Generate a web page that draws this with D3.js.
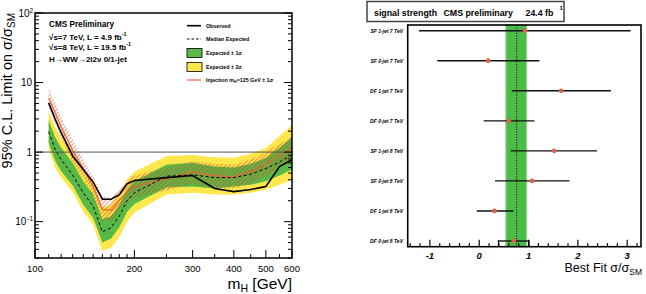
<!DOCTYPE html>
<html>
<head>
<meta charset="utf-8">
<script src="https://cdn.jsdelivr.net/npm/d3@7"></script>
<style>
  html, body { margin: 0; padding: 0; background: #fff; }
  svg { display: block; font-family: "Liberation Sans", Arial, sans-serif; }
</style>
</head>
<body>
<svg id="chart" width="646" height="294"></svg>
<script>
/* global d3 */

// ---- left panel: limit vs mass ----
const masses   = [110, 115, 120, 130, 140, 150, 160, 170, 180, 190, 200, 250, 300, 350, 400, 450, 500, 550, 600];
const observed = [5.1, 3.0, 1.9, 0.88, 0.56, 0.37, 0.21, 0.21, 0.245, 0.35, 0.39, 0.43, 0.46, 0.30, 0.27, 0.29, 0.32, 0.62, 0.78];
const expected = [1.97, 1.1, 0.78, 0.47, 0.26, 0.167, 0.071, 0.082, 0.12, 0.2, 0.26, 0.45, 0.47, 0.43, 0.43, 0.48, 0.58, 0.72, 0.91];
const exp1Hi   = [2.9, 1.65, 1.15, 0.7, 0.38, 0.245, 0.108, 0.12, 0.175, 0.29, 0.38, 0.66, 0.70, 0.62, 0.6, 0.68, 0.82, 1.15, 1.65];
const exp1Lo   = [1.35, 0.75, 0.53, 0.33, 0.175, 0.113, 0.05, 0.057, 0.083, 0.138, 0.18, 0.31, 0.32, 0.3, 0.32, 0.34, 0.38, 0.46, 0.56];
const exp2Hi   = [3.9, 2.3, 1.6, 1.0, 0.55, 0.35, 0.16, 0.175, 0.25, 0.4, 0.52, 0.88, 0.91, 0.84, 0.83, 0.95, 1.14, 1.7, 2.45];
const exp2Lo   = [1.1, 0.6, 0.43, 0.27, 0.14, 0.09, 0.038, 0.042, 0.06, 0.1, 0.135, 0.245, 0.26, 0.245, 0.245, 0.26, 0.29, 0.34, 0.40];
const injMid   = [6.0, 3.7, 2.3, 1.05, 0.58, 0.32, 0.15, 0.145, 0.2, 0.27, 0.32, 0.41, 0.52, 0.46, 0.44, 0.52, 0.68, 0.88, 1.15];
const injHi    = [8.0, 5.2, 3.2, 1.5, 0.78, 0.44, 0.23, 0.22, 0.3, 0.4, 0.46, 0.6, 0.74, 0.68, 0.66, 0.78, 1.0, 1.3, 1.7];
const injLo    = [4.4, 2.6, 1.6, 0.72, 0.42, 0.24, 0.105, 0.1, 0.14, 0.18, 0.22, 0.28, 0.35, 0.31, 0.3, 0.35, 0.45, 0.57, 0.75];
const massTicks = [100, 200, 300, 400, 500, 600];
const massMinor = [110, 120, 130, 140, 150, 160, 170, 180, 190, 250, 350, 450, 550];

// ---- right panel: signal strength per channel ----
const channels = ['SF 1-jet 7 TeV', 'SF 0-jet 7 TeV', 'DF 1-jet 7 TeV', 'DF 0-jet 7 TeV',
                  'SF 1-jet 8 TeV', 'SF 0-jet 8 TeV', 'DF 1-jet 8 TeV', 'DF 0-jet 8 TeV'];
const muFit  = [0.93, 0.18, 1.66, 0.60, 1.52, 1.07, 0.31, 0.70];
const muLow  = [-1.22, -0.85, 0.66, 0.09, 0.64, 0.32, -0.05, 0.39];
const muHigh = [3.07, 1.22, 2.67, 1.12, 2.39, 1.83, 0.69, 1.01];
const muComb = [0.54, 0.76, 0.96];   // low, central, high
const muTicks = [-1, 0, 1, 2, 3];

const svg = d3.select('#chart');
const defs = svg.append('defs');

defs.append('pattern')
  .attr('id', 'hatch')
  .attr('patternUnits', 'userSpaceOnUse')
  .attr('width', 3).attr('height', 3)
  .attr('patternTransform', 'rotate(45)')
  .append('line')
  .attr('x1', 0).attr('y1', 0).attr('x2', 0).attr('y2', 3)
  .attr('stroke', '#e8381e').attr('stroke-width', 1.1);

// left
const L = { x0: 35, x1: 292, y0: 13, y1: 258 };
const xL = d3.scaleLog().domain([100, 600]).range([L.x0, L.x1]);
const yL = d3.scaleLog().domain([0.03, 100]).range([L.y1, L.y0]);

defs.append('clipPath').attr('id', 'clipL')
  .append('rect').attr('x', L.x0).attr('y', L.y0).attr('width', L.x1 - L.x0).attr('height', L.y1 - L.y0);

const gL = svg.append('g');
const plotL = gL.append('g').attr('clip-path', 'url(#clipL)');

const band = (lo, hi) => d3.area()
  .x((d, i) => xL(masses[i]))
  .y0((d, i) => yL(lo[i]))
  .y1((d, i) => yL(hi[i]));
const line = (vals) => d3.line().x((d, i) => xL(masses[i])).y((d, i) => yL(vals[i]));

plotL.append('path').attr('d', band(exp2Lo, exp2Hi)(masses)).attr('fill', '#fde74c');
plotL.append('path').attr('d', band(exp1Lo, exp1Hi)(masses)).attr('fill', '#58b947');
plotL.append('path').attr('d', band(injLo, injHi)(masses)).attr('fill', 'url(#hatch)');
plotL.append('path').attr('d', line(injMid)(masses))
  .attr('fill', 'none').attr('stroke', '#e8662c').attr('stroke-width', 1.2);
plotL.append('path').attr('d', line(expected)(masses))
  .attr('fill', 'none').attr('stroke', '#000').attr('stroke-width', 1).attr('stroke-dasharray', '3,2.5');
plotL.append('path').attr('d', line(observed)(masses))
  .attr('fill', 'none').attr('stroke', '#000').attr('stroke-width', 1.6);
plotL.append('line')
  .attr('x1', L.x0).attr('x2', L.x1).attr('y1', yL(1)).attr('y2', yL(1))
  .attr('stroke', '#555').attr('stroke-width', 1);

// frame + ticks
gL.append('rect').attr('x', L.x0).attr('y', L.y0).attr('width', L.x1 - L.x0).attr('height', L.y1 - L.y0)
  .attr('fill', 'none').attr('stroke', '#000').attr('stroke-width', 1.5);

const yMajor = [0.1, 1, 10, 100];
const yMinor = [];
[0.01, 0.1, 1, 10].forEach((dec) => { for (let k = 2; k <= 9; k++) { const v = dec * k; if (v >= 0.03 && v < 100) yMinor.push(v); } });
const tickG = gL.append('g').attr('stroke', '#000').attr('stroke-width', 1);
yMajor.forEach((v) => {
  tickG.append('line').attr('x1', L.x0).attr('x2', L.x0 + 8).attr('y1', yL(v)).attr('y2', yL(v));
  tickG.append('line').attr('x1', L.x1).attr('x2', L.x1 - 8).attr('y1', yL(v)).attr('y2', yL(v));
});
yMinor.forEach((v) => {
  tickG.append('line').attr('x1', L.x0).attr('x2', L.x0 + 4).attr('y1', yL(v)).attr('y2', yL(v));
  tickG.append('line').attr('x1', L.x1).attr('x2', L.x1 - 4).attr('y1', yL(v)).attr('y2', yL(v));
});
massTicks.forEach((m) => {
  tickG.append('line').attr('x1', xL(m)).attr('x2', xL(m)).attr('y1', L.y1).attr('y2', L.y1 - 8);
});
massMinor.forEach((m) => {
  tickG.append('line').attr('x1', xL(m)).attr('x2', xL(m)).attr('y1', L.y1).attr('y2', L.y1 - 4);
});

gL.selectAll('text.xt').data(massTicks).join('text')
  .attr('x', (d) => xL(d)).attr('y', 272)
  .attr('text-anchor', 'middle').attr('font-size', 9.5).text((d) => d);

const yLab = gL.append('g').attr('font-size', 10).attr('text-anchor', 'end');
[[100, '10', '2'], [10, '10', null], [1, '1', null], [0.1, '10', '-1']].forEach(([v, base, sup]) => {
  yLab.append('text').attr('x', sup ? 33 - (sup.length * 3.3) : 32).attr('y', yL(v) + 3.5).text(base);
  if (sup) {
    yLab.append('text').attr('x', 33).attr('y', yL(v) - 0.5).attr('font-size', 6.5).text(sup);
  }
});

// axis titles
const yt = gL.append('text').attr('transform', 'translate(12,13) rotate(-90)')
  .attr('text-anchor', 'end').attr('font-size', 14.5);
yt.append('tspan').text('95% C.L. Limit on σ/σ');
yt.append('tspan').attr('font-size', 10).attr('dy', 3).text('SM');

const xt = gL.append('text').attr('x', 292).attr('y', 289).attr('text-anchor', 'end').attr('font-size', 15.5);
xt.append('tspan').text('m');
xt.append('tspan').attr('font-size', 10.5).attr('dy', 2.5).text('H');
xt.append('tspan').attr('dy', -2.5).text(' [GeV]');

// CMS labels
const info = gL.append('g').attr('font-weight', 'bold').attr('font-size', 8.2);
info.append('text').attr('x', 49).attr('y', 27.3).text('CMS Preliminary');
const lumi = [['√s=7 TeV, L = 4.9 fb', 39.5], ['√s=8 TeV, L = 19.5 fb', 49.5]];
lumi.forEach(([s, y]) => {
  const t = info.append('text').attr('x', 49).attr('y', y).attr('font-size', 8);
  t.append('tspan').text(s);
  t.append('tspan').attr('dy', -3.5).attr('font-size', 5.5).text('-1');
});
info.append('text').attr('x', 49).attr('y', 61.5).attr('font-size', 8).text('H→WW→2l2ν 0/1-jet');

// legend
const lg = gL.append('g').attr('font-size', 5.3).attr('font-weight', 'bold');
lg.append('line').attr('x1', 187).attr('x2', 201).attr('y1', 25.7).attr('y2', 25.7).attr('stroke', '#000').attr('stroke-width', 1.6);
lg.append('text').attr('x', 206).attr('y', 27.5).text('Observed');
lg.append('line').attr('x1', 187).attr('x2', 201).attr('y1', 39).attr('y2', 39).attr('stroke', '#000').attr('stroke-width', 1).attr('stroke-dasharray', '2.5,2');
lg.append('text').attr('x', 206).attr('y', 40.8).text('Median Expected');
lg.append('rect').attr('x', 187).attr('y', 48.5).attr('width', 15).attr('height', 9).attr('fill', '#58b947').attr('stroke', '#000').attr('stroke-width', 0.8);
lg.append('text').attr('x', 206).attr('y', 54.5).text('Expected ± 1σ');
lg.append('rect').attr('x', 187).attr('y', 62.5).attr('width', 15).attr('height', 9).attr('fill', '#fde74c').attr('stroke', '#000').attr('stroke-width', 0.8);
lg.append('text').attr('x', 206).attr('y', 68.5).text('Expected ± 2σ');
lg.append('line').attr('x1', 187).attr('x2', 201).attr('y1', 80).attr('y2', 80).attr('stroke', '#f28a78').attr('stroke-width', 1.6);
const inj = lg.append('text').attr('x', 206).attr('y', 81.8);
inj.append('tspan').text('Injection m');
inj.append('tspan').attr('font-size', 3.8).attr('dy', 1.5).text('H');
inj.append('tspan').attr('dy', -1.5).text('=125 GeV ± 1σ');

// right
const R = { x0: 407.7, x1: 641, y0: 25, y1: 246.7 };
const xR = d3.scaleLinear().domain([-1.45, 3.3]).range([407.7, 642]);
const yR = d3.scalePoint().domain(channels).range([30.7, 241]);
const gR = svg.append('g');

gR.append('rect')
  .attr('x', xR(muComb[0])).attr('y', R.y0)
  .attr('width', xR(muComb[2]) - xR(muComb[0])).attr('height', R.y1 - R.y0)
  .attr('fill', '#4dbb48').attr('stroke', '#8fd98a').attr('stroke-width', 1.2);
gR.append('line')
  .attr('x1', xR(muComb[1])).attr('x2', xR(muComb[1])).attr('y1', R.y0).attr('y2', R.y1)
  .attr('stroke', '#000').attr('stroke-width', 1).attr('stroke-dasharray', '1,1.6');

channels.forEach((c, i) => {
  const y = yR(c);
  gR.append('line').attr('x1', xR(muLow[i])).attr('x2', xR(muHigh[i])).attr('y1', y).attr('y2', y)
    .attr('stroke', '#111').attr('stroke-width', 1.4);
  if (i === channels.length - 1) {
    [muLow[i], muHigh[i]].forEach((v) => {
      gR.append('line').attr('x1', xR(v)).attr('x2', xR(v)).attr('y1', y - 1).attr('y2', R.y1)
        .attr('stroke', '#111').attr('stroke-width', 1.2);
    });
  }
  gR.append('circle').attr('cx', xR(muFit[i])).attr('cy', y).attr('r', 2.4).attr('fill', '#d9654f');
  gR.append('text').attr('x', 403).attr('y', y + 1.8).attr('text-anchor', 'end')
    .attr('font-size', 5).attr('font-weight', 'bold').attr('font-style', 'italic').text(c);
});

gR.append('rect')
  .attr('x', R.x0).attr('y', R.y0).attr('width', R.x1 - R.x0).attr('height', R.y1 - R.y0)
  .attr('fill', 'none').attr('stroke', '#000').attr('stroke-width', 1.6);

const rTicks = gR.append('g').attr('stroke', '#000').attr('stroke-width', 1.2);
d3.range(-1.4, 3.3, 0.2).forEach((v) => {
  const major = muTicks.some((t) => Math.abs(t - v) < 1e-6);
  rTicks.append('line').attr('x1', xR(v)).attr('x2', xR(v)).attr('y1', R.y1).attr('y2', R.y1 - (major ? 7 : 3.5));
});
gR.selectAll('text.rt').data(muTicks).join('text')
  .attr('x', (d) => xR(d)).attr('y', 258.5).attr('text-anchor', 'middle')
  .attr('font-size', 9.5).attr('font-weight', 'bold').attr('font-style', 'italic').text((d) => d);

const bt = gR.append('text').attr('x', 642).attr('y', 271.5).attr('text-anchor', 'end').attr('font-size', 12.5);
bt.append('tspan').text('Best Fit σ/σ');
bt.append('tspan').attr('font-size', 8.5).attr('dy', 3).text('SM');

// title box
gR.append('rect').attr('x', 367).attr('y', 1.5).attr('width', 197).attr('height', 20)
  .attr('fill', '#fff').attr('stroke', '#444').attr('stroke-width', 1.5);
const tb = gR.append('g').attr('font-size', 8.8).attr('font-weight', 'bold');
tb.append('text').attr('x', 374).attr('y', 16).text('signal strength');
tb.append('text').attr('x', 443.5).attr('y', 16).text('CMS preliminary');
tb.append('text').attr('x', 525.5).attr('y', 16).text('24.4 fb');
tb.append('text').attr('x', 559.5).attr('y', 10).attr('font-size', 6).text('1');
</script>
</body>
</html>
